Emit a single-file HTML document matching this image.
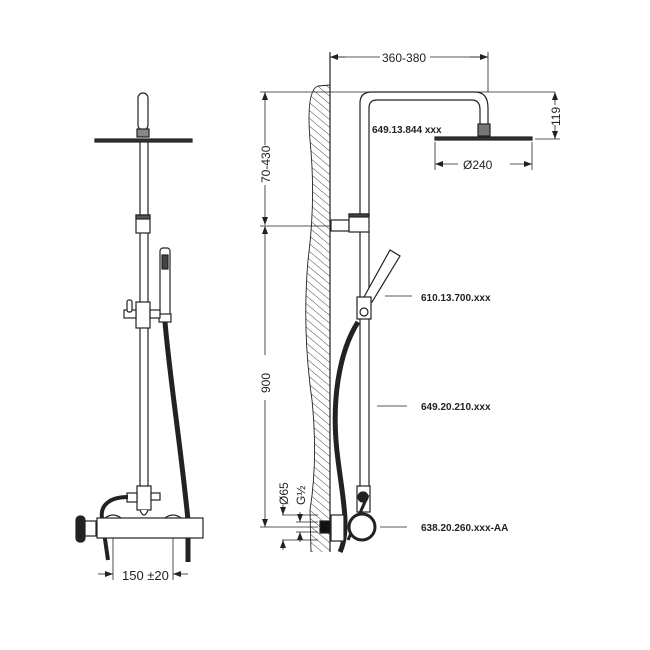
<!DOCTYPE html>
<html><head><meta charset="utf-8"><style>
html,body{margin:0;padding:0;background:#fff;}
svg{display:block;}
text{font-family:"Liberation Sans",Arial,sans-serif;fill:#222;}
</style></head><body>
<svg width="650" height="650" viewBox="0 0 650 650" xmlns="http://www.w3.org/2000/svg">
<defs>
<pattern id="h" width="6" height="6" patternUnits="userSpaceOnUse" patternTransform="rotate(-50)">
<line x1="0" y1="0" x2="0" y2="6" stroke="#333" stroke-width="0.9"/></pattern>
<marker id="a" markerWidth="8" markerHeight="6" refX="8" refY="3" orient="auto-start-reverse" markerUnits="userSpaceOnUse"><path d="M0,0 L8,3 L0,6 z" fill="#222"/></marker>
</defs>
<g stroke="#222" stroke-width="1.2" fill="none">
<!-- LEFT VIEW -->
<rect x="138" y="93" width="10" height="37" rx="5" fill="#fff"/>
<rect x="137" y="129" width="12" height="8" fill="#888"/>
<rect x="95" y="139" width="97" height="3" fill="#333"/>
<line x1="140" y1="142" x2="140" y2="486"/><line x1="148" y1="142" x2="148" y2="486"/>
<rect x="136" y="215" width="14" height="18" fill="#fff"/><rect x="136" y="215" width="14" height="4" fill="#555"/>
<rect x="160" y="248" width="10" height="72" rx="3" fill="#fff"/><rect x="162" y="255" width="6" height="14" fill="#444"/>
<rect x="159" y="314" width="12" height="8" fill="#fff"/>
<rect x="136" y="302" width="14" height="26" fill="#fff"/>
<rect x="124" y="310" width="12" height="8" fill="#fff"/><rect x="127" y="300" width="5" height="12" rx="2" fill="#fff"/>
<rect x="150" y="310" width="10" height="8" fill="#fff"/>
<path d="M165,322 C170,380 180,440 188,520 L188,562" stroke-width="5"/>
<rect x="137" y="486" width="14" height="24" fill="#fff"/>
<path d="M140,510 Q144,520 148,510" fill="#fff"/>
<rect x="151" y="493" width="9" height="7" fill="#fff"/>
<rect x="127" y="493" width="10" height="9" fill="#fff"/>
<path d="M128,497 C110,497 100,505 102,518 L108,560" stroke-width="4"/>
<rect x="97" y="518" width="106" height="20" fill="#fff"/>
<path d="M105,518 Q113,512 121,518 M165,518 Q173,512 181,518"/>
<rect x="84" y="521" width="12" height="15" fill="#fff"/>
<rect x="76" y="516" width="9" height="26" rx="4" fill="#222"/>
<line x1="113" y1="538" x2="113" y2="580" stroke-width="0.8"/><line x1="173" y1="538" x2="173" y2="580" stroke-width="0.8"/>
<line x1="98" y1="574" x2="113" y2="574" stroke-width="0.8" marker-end="url(#a)"/>
<line x1="188" y1="574" x2="173" y2="574" stroke-width="0.8" marker-end="url(#a)"/>
<!-- RIGHT VIEW wall -->
<path d="M330,85 L318,86 Q306,90 310,140 Q316,200 308,260 Q302,330 312,400 Q318,460 310,510 L311,552 L330,552 Z" fill="url(#h)" stroke="none"/>
<path d="M330,85 L318,86 Q306,90 310,140 Q316,200 308,260 Q302,330 312,400 Q318,460 310,510 L311,552" stroke-width="0.9"/>
<line x1="330" y1="52" x2="330" y2="552"/>
<!-- arm -->
<path d="M360,216 L360,103 Q360,92 372,92 L475,92 Q488,92 488,108 L488,124"/>
<path d="M369,216 L369,108 Q369,100 377,100 L472,100 Q480,100 480,110 L480,124"/>
<rect x="478" y="124" width="12" height="12" fill="#777"/>
<rect x="435" y="137" width="97" height="3" fill="#333"/>
<rect x="331" y="220" width="18" height="11" fill="#fff"/>
<rect x="349" y="214" width="20" height="18" fill="#fff"/><rect x="349" y="214" width="20" height="3" fill="#444"/>
<line x1="360" y1="232" x2="360" y2="486"/><line x1="369" y1="232" x2="369" y2="486"/>
<path d="M364,297 L390,250 L400,256 L372,302 Z" fill="#fff"/>
<rect x="357" y="297" width="14" height="22" fill="#fff"/><circle cx="364" cy="312" r="4" fill="#fff"/>
<path d="M358,322 C340,350 330,400 338,460 C343,500 350,530 340,552" stroke-width="5"/>
<rect x="357" y="486" width="13" height="26" fill="#fff"/>
<circle cx="363" cy="497" r="5" fill="#222"/>
<path d="M368,495 L348,540" stroke-width="3"/>
<circle cx="362" cy="527" r="13" stroke-width="3" fill="#fff"/>
<rect x="331" y="515" width="13" height="26" fill="#fff"/>
<rect x="320" y="521" width="10" height="12" fill="#111"/>
<!-- dims right -->
<g stroke-width="0.8">
<line x1="260" y1="92" x2="555" y2="92"/><line x1="488" y1="52" x2="488" y2="92"/>
<line x1="345" y1="57" x2="330" y2="57" marker-end="url(#a)"/><line x1="470" y1="57" x2="488" y2="57" marker-end="url(#a)"/>
<line x1="330" y1="57" x2="380" y2="57"/><line x1="430" y1="57" x2="488" y2="57"/>
<line x1="535" y1="139" x2="560" y2="139"/>
<line x1="555" y1="92" x2="555" y2="105" marker-start="url(#a)"/><line x1="555" y1="125" x2="555" y2="139" marker-end="url(#a)"/>
<line x1="435" y1="142" x2="435" y2="170"/><line x1="532" y1="142" x2="532" y2="170"/>
<line x1="435" y1="164" x2="458" y2="164" marker-start="url(#a)"/><line x1="510" y1="164" x2="532" y2="164" marker-end="url(#a)"/>
<line x1="265" y1="92" x2="265" y2="145" marker-start="url(#a)"/><line x1="265" y1="185" x2="265" y2="225" marker-end="url(#a)"/>
<line x1="260" y1="226" x2="330" y2="226"/>
<line x1="265" y1="226" x2="265" y2="355" marker-start="url(#a)"/><line x1="265" y1="400" x2="265" y2="527" marker-end="url(#a)"/>
<line x1="260" y1="527" x2="318" y2="527"/>
<line x1="282" y1="515" x2="318" y2="515"/><line x1="282" y1="540" x2="318" y2="540"/>
<line x1="296" y1="522" x2="318" y2="522"/><line x1="296" y1="532" x2="318" y2="532"/>
<line x1="283" y1="505" x2="283" y2="515" marker-end="url(#a)"/><line x1="283" y1="550" x2="283" y2="540" marker-end="url(#a)"/>
<line x1="300" y1="512" x2="300" y2="522" marker-end="url(#a)"/><line x1="300" y1="542" x2="300" y2="532" marker-end="url(#a)"/>
<line x1="385" y1="296" x2="412" y2="296"/><line x1="377" y1="406" x2="407" y2="406"/><line x1="380" y1="527" x2="407" y2="527"/>
</g>
</g>
<text x="122" y="580" font-size="13">150 ±20</text>
<text x="382" y="62" font-size="12">360-380</text>
<text x="463" y="169" font-size="12">Ø240</text>
<text x="372" y="133" font-size="10" font-weight="bold">649.13.844 xxx</text>
<text x="421" y="301" font-size="10" font-weight="bold">610.13.700.xxx</text>
<text x="421" y="410" font-size="10" font-weight="bold">649.20.210.xxx</text>
<text x="421" y="531" font-size="10" font-weight="bold">638.20.260.xxx-AA</text>
<text transform="translate(270,183) rotate(-90)" font-size="12">70-430</text>
<text transform="translate(270,393) rotate(-90)" font-size="12">900</text>
<text transform="translate(560,126) rotate(-90)" font-size="12">119</text>
<text transform="translate(288,505) rotate(-90)" font-size="12">Ø65</text>
<text transform="translate(305,505) rotate(-90)" font-size="12">G½</text>
</svg>
</body></html>
